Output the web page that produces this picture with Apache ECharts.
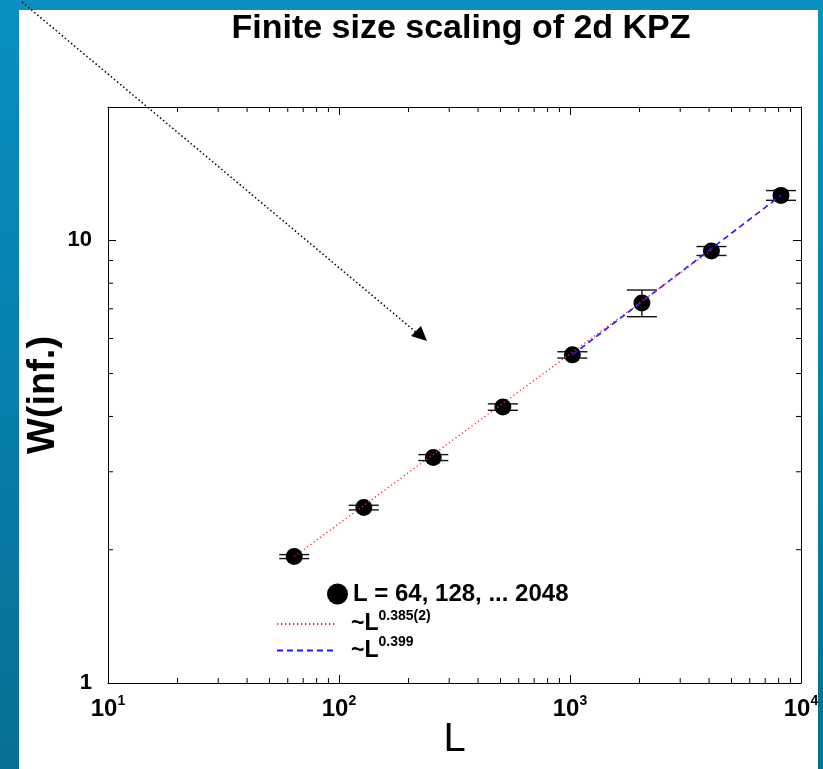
<!DOCTYPE html>
<html>
<head>
<meta charset="utf-8">
<script src="https://cdn.jsdelivr.net/npm/echarts@6/dist/echarts.min.js"></script>
<style>
  html, body { margin: 0; padding: 0; background: #fff; }
  #chart { width: 823px; height: 769px; }
</style>
</head>
<body>
<div id="chart"></div>
<script>
// system sizes L and saturated width W(inf.)
const sizes = [64, 128, 256, 512, 1024, 2048, 4096, 8192];
const widths = [1.93, 2.49, 3.23, 4.20, 5.51, 7.22, 9.46, 12.63];
const errors = [0.02, 0.03, 0.05, 0.07, 0.09, 0.50, 0.22, 0.32];
// fitted power laws (end points)
const fitRed = [[64, 1.93], [4096, 9.5]];
const fitBlue = [[1024, 5.51], [8192, 12.63]];
// log minor ticks
const xMinor = [20, 30, 40, 50, 60, 70, 80, 90, 200, 300, 400, 500, 600, 700, 800, 900,
  2000, 3000, 4000, 5000, 6000, 7000, 8000, 9000];
const yMinor = [2, 3, 4, 5, 6, 7, 8, 9];

const FONT = 'Liberation Sans';
const BLUE_TOP = '#0790c1', BLUE_BOT = '#066f94';

let myChart = echarts.init(document.getElementById('chart'));

function tickLine(x1, y1, x2, y2) {
  return { type: 'line', shape: { x1: x1, y1: y1, x2: x2, y2: y2 }, style: { stroke: '#000', lineWidth: 1 } };
}

function blueFill() {
  return new echarts.graphic.LinearGradient(0, 0, 0, 1, [{ offset: 0, color: BLUE_TOP }, { offset: 1, color: BLUE_BOT }]);
}

let logAxis = {
  type: 'log',
  logBase: 10,
  splitLine: { show: false },
  axisLine: { onZero: false, lineStyle: { color: '#000', width: 1 } },
  axisTick: { inside: true, length: 8, lineStyle: { color: '#000' } }
};

let option = {
  animation: false,
  title: {
    text: 'Finite size scaling of 2d KPZ',
    left: 456,
    textAlign: 'center',
    top: 7,
    textStyle: { fontFamily: FONT, fontSize: 34, fontWeight: 'bold', color: '#000' }
  },
  graphic: [
    { type: 'rect', z: -10, shape: { x: 0, y: 0, width: 19, height: 769 }, style: { fill: blueFill() } },
    { type: 'rect', z: -10, shape: { x: 0, y: 0, width: 823, height: 10 }, style: { fill: BLUE_TOP } },
    { type: 'rect', z: -10, shape: { x: 818, y: 0, width: 5, height: 769 }, style: { fill: blueFill() } },
    { type: 'polyline', z: 10, shape: { points: [[22, 2], [417, 333]] },
      style: { stroke: '#000', lineWidth: 1.5, lineDash: [1.5, 2.5], fill: null } },
    { type: 'polygon', z: 10, shape: { points: [[427, 341], [411, 336], [421, 326]] }, style: { fill: '#000' } }
  ],
  legend: [{
    data: ['L = 64, 128, ... 2048'],
    left: 322,
    top: 577,
    itemWidth: 21,
    itemHeight: 21,
    itemStyle: { opacity: 1 },
    textStyle: { fontFamily: FONT, fontSize: 24, fontWeight: 'bold', color: '#000' }
  }, {
    data: ['~L^0.385(2)', '~L^0.399'],
    orient: 'vertical',
    left: 271,
    top: 604,
    itemWidth: 60,
    itemHeight: 14,
    itemGap: 0,
    itemStyle: { opacity: 0 },
    formatter: function (name) {
      let p = name.split('^');
      return '{t|' + p[0] + '}{s|' + p[1] + '}';
    },
    textStyle: {
      color: '#000',
      rich: {
        t: { fontFamily: FONT, fontSize: 23, fontWeight: 'bold', lineHeight: 30, padding: [0, 0, 0, 9] },
        s: { fontFamily: FONT, fontSize: 14, fontWeight: 'bold', verticalAlign: 'top', lineHeight: 10 }
      }
    }
  }],
  grid: { left: 108, right: 22, top: 107, bottom: 86, containLabel: false, outerBoundsMode: 'none' },
  xAxis: [Object.assign({}, logAxis, {
    min: 10, max: 10000,
    name: 'L',
    nameLocation: 'middle',
    nameGap: 37,
    nameMoveOverlap: false,
    nameTextStyle: { fontFamily: FONT, fontSize: 40, color: '#000' },
    axisLabel: {
      margin: 11,
      color: '#000',
      formatter: function (v) { return '{b|10}{s|' + Math.round(Math.log10(v)) + '}'; },
      rich: {
        b: { fontFamily: FONT, fontSize: 24, fontWeight: 'bold', lineHeight: 30 },
        s: { fontFamily: FONT, fontSize: 14, fontWeight: 'bold', verticalAlign: 'top', lineHeight: 14 }
      }
    }
  }), Object.assign({}, logAxis, {
    min: 10, max: 10000, position: 'top', axisLabel: { show: false }
  })],
  yAxis: [Object.assign({}, logAxis, {
    min: 1, max: 20,
    name: 'W(inf.)',
    nameLocation: 'middle',
    nameGap: 45,
    nameMoveOverlap: false,
    nameRotate: 90,
    nameTextStyle: { fontFamily: FONT, fontSize: 38, fontWeight: 'bold', color: '#000' },
    axisLabel: {
      margin: 16,
      color: '#000',
      fontFamily: FONT, fontSize: 22, fontWeight: 'bold',
      showMaxLabel: false,
      formatter: function (v) { return (v === 1 || v === 10) ? String(v) : ''; }
    }
  }), Object.assign({}, logAxis, {
    min: 1, max: 20, position: 'right', axisLabel: { show: false }
  })],
  series: [{
    name: 'errors',
    type: 'custom',
    z: 3,
    silent: true,
    data: sizes.map((s, i) => [s, widths[i] - errors[i], widths[i] + errors[i]]),
    encode: { x: 0, y: [1, 2] },
    renderItem: function (params, api) {
      let x = api.value(0);
      let lo = api.coord([x, api.value(1)]);
      let hi = api.coord([x, api.value(2)]);
      let hw = 15;
      let st = { stroke: '#111', lineWidth: 1.4 };
      return {
        type: 'group',
        children: [
          { type: 'line', shape: { x1: hi[0], y1: hi[1], x2: lo[0], y2: lo[1] }, style: st },
          { type: 'line', shape: { x1: hi[0] - hw, y1: hi[1], x2: hi[0] + hw, y2: hi[1] }, style: st },
          { type: 'line', shape: { x1: lo[0] - hw, y1: lo[1], x2: lo[0] + hw, y2: lo[1] }, style: st }
        ]
      };
    }
  }, {
    name: 'L = 64, 128, ... 2048',
    type: 'scatter',
    z: 4,
    symbol: 'circle',
    symbolSize: 17,
    itemStyle: { color: '#000', opacity: 1 },
    data: sizes.map((s, i) => [s, widths[i]])
  }, {
    name: '~L^0.385(2)',
    type: 'line',
    z: 6,
    symbol: 'none',
    lineStyle: { color: '#ff2a2a', width: 1.3, type: [1.3, 2.7] },
    itemStyle: { color: '#ff2a2a' },
    data: fitRed
  }, {
    name: '~L^0.399',
    type: 'line',
    z: 5,
    symbol: 'none',
    lineStyle: { color: '#1a1aff', width: 1.6, type: [6, 4] },
    itemStyle: { color: '#1a1aff' },
    data: fitBlue
  }, {
    name: 'xminor',
    type: 'custom',
    silent: true,
    data: xMinor.map(v => [v, 1]),
    renderItem: function (params, api) {
      let cs = params.coordSys;
      let x = api.coord([api.value(0), api.value(1)])[0];
      return {
        type: 'group',
        children: [tickLine(x, cs.y + cs.height, x, cs.y + cs.height - 5), tickLine(x, cs.y, x, cs.y + 5)]
      };
    }
  }, {
    name: 'yminor',
    type: 'custom',
    silent: true,
    data: yMinor.map(v => [10, v]),
    renderItem: function (params, api) {
      let cs = params.coordSys;
      let y = api.coord([api.value(0), api.value(1)])[1];
      return {
        type: 'group',
        children: [tickLine(cs.x, y, cs.x + 5, y), tickLine(cs.x + cs.width, y, cs.x + cs.width - 5, y)]
      };
    }
  }]
};
myChart.setOption(option);
</script>
</body>
</html>
